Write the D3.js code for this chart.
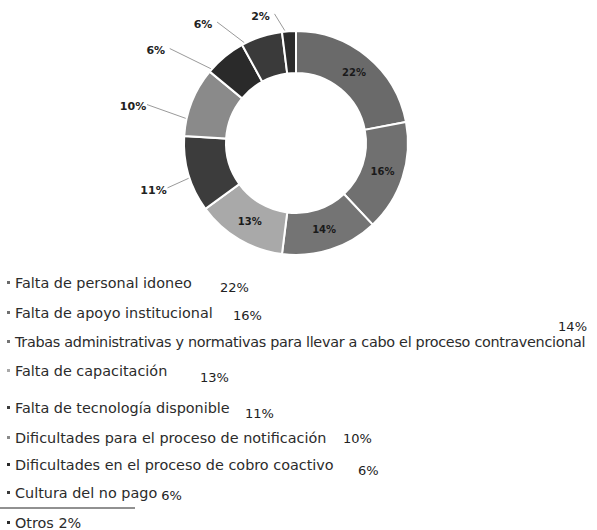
<!DOCTYPE html>
<html>
<head>
<meta charset="utf-8">
<script src="https://cdn.jsdelivr.net/npm/d3@7"></script>
<style>
  body { margin: 0; background: #fff; }
  text { font-family: "DejaVu Sans", sans-serif; }
</style>
</head>
<body>
<svg width="597" height="530"></svg>
<script>
// Categories, values and slice greys
const categories = [
  "Falta de personal idoneo",
  "Falta de apoyo institucional",
  "Trabas administrativas y normativas para llevar a cabo el proceso contravencional",
  "Falta de capacitación",
  "Falta de tecnología disponible",
  "Dificultades para el proceso de notificación",
  "Dificultades en el proceso de cobro coactivo",
  "Cultura del no pago",
  "Otros"
];
const values = [22, 16, 14, 13, 11, 10, 6, 6, 2];
const colors = ["#6a6a6a", "#707070", "#747474", "#a9a9a9", "#3c3c3c", "#8a8a8a", "#2a2a2a", "#3a3a3a", "#2c2c2c"];

// Layout
const width = 597;
const height = 530;
const cx = 296, cy = 143;
const outerR = 112, innerR = 70;
const svg = d3.select("svg");

const pie = d3.pie().sort(null).value(d => d);
const arcs = pie(values);

const arc = d3.arc().innerRadius(innerR).outerRadius(outerR);
const labelArc = d3.arc().innerRadius(91).outerRadius(91);

const donut = svg.append("g").attr("transform", `translate(${cx},${cy})`);

donut.selectAll("path")
  .data(arcs)
  .enter()
  .append("path")
    .attr("d", arc)
    .attr("fill", (d, i) => colors[i])
    .attr("stroke", "#fff")
    .attr("stroke-width", 2);

// Big slices get their label inside the ring
const inside = arcs.filter(d => d.data >= 13);
donut.selectAll("text.in")
  .data(inside)
  .enter()
  .append("text")
    .attr("class", "in")
    .attr("x", d => labelArc.centroid(d)[0])
    .attr("y", d => labelArc.centroid(d)[1])
    .attr("dy", "0.35em")
    .style("text-anchor", "middle")
    .style("font-size", "10px")
    .style("font-weight", "bold")
    .style("fill", "#1a1a1a")
    .text(d => d.data + "%");

// Small slices: labels spread counter-clockwise outside the ring (angle shift in degrees, radius)
const outsideShift = { 4: [-2, 150], 5: [-9, 167], 6: [-17, 168], 7: [-20, 151], 8: [-12, 132] };
const deg = Math.PI / 180;
arcs.forEach((d, i) => {
  if (!(i in outsideShift)) return;
  const mid = (d.startAngle + d.endAngle) / 2;
  const a = mid + outsideShift[i][0] * deg;
  const r = outsideShift[i][1];
  const lx = Math.sin(a) * r, ly = -Math.cos(a) * r;
  // leader end: label direction clamped into the slice
  const ea = Math.max(d.startAngle + 1.5 * deg, Math.min(d.endAngle - 1.5 * deg, a));
  const ex = Math.sin(ea) * (outerR + 1), ey = -Math.cos(ea) * (outerR + 1);
  donut.append("path")
    .attr("d", d3.line()([[lx + 14, ly - 2], [ex, ey]]))
    .attr("stroke", "#9a9a9a")
    .attr("stroke-width", 1)
    .attr("fill", "none");
  donut.append("text")
    .attr("x", lx)
    .attr("y", ly)
    .attr("dy", "0.35em")
    .style("text-anchor", "middle")
    .style("font-size", "11px")
    .style("font-weight", "bold")
    .style("fill", "#222")
    .text(d.data + "%");
});

// Legend: row centres, where each percentage starts and how far it drops
const rowY = [283, 313, 342, 371, 408, 438, 465, 493, 523];
const pctX = [220, 233, null, 200, 245, 343, 358, 158, null];
const pctDy = [4, 2, 0, 6, 5, 0, 5, 2, 0];
const legend = svg.append("g");

categories.forEach((c, i) => {
  const g = legend.append("g").attr("transform", `translate(0,${rowY[i]})`);
  g.append("rect")
    .attr("x", 7).attr("y", -2)
    .attr("width", 3).attr("height", 3)
    .attr("fill", colors[i]);
  const t = g.append("text")
    .attr("x", 15)
    .attr("dy", "0.35em")
    .style("font-size", "14.4px")
    .style("fill", "#2b2b2b")
    .text(i === 8 ? c + " " + values[i] + "%" : c);
  if (i === 2) {
    // squeeze the long label with tighter letter spacing so it ends inside the frame
    const natural = t.node().getComputedTextLength();
    t.style("letter-spacing", ((570 - natural) / c.length).toFixed(2) + "px");
    // its percentage sits above the line, at the right
    g.append("text")
      .attr("x", 587)
      .attr("y", -16)
      .attr("dy", "0.35em")
      .style("text-anchor", "end")
      .style("font-size", "13px")
      .style("fill", "#222")
      .text(values[i] + "%");
  } else if (pctX[i] !== null) {
    const end = 15 + t.node().getComputedTextLength();
    g.append("text")
      .attr("x", Math.max(pctX[i], end + 4))
      .attr("y", pctDy[i])
      .attr("dy", "0.35em")
      .style("font-size", "13px")
      .style("fill", "#222")
      .text(values[i] + "%");
  }
});

// Rule under "Cultura del no pago"
svg.append("line")
  .attr("x1", 0).attr("x2", 135)
  .attr("y1", 508).attr("y2", 508)
  .attr("stroke", "#222")
  .attr("stroke-width", 1);
</script>
</body>
</html>
